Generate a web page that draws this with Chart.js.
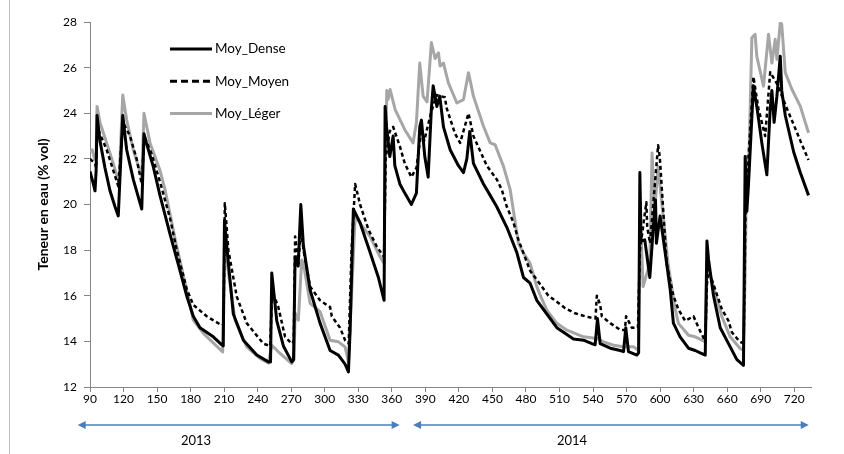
<!DOCTYPE html>
<html>
<head>
<meta charset="utf-8">
<script src="https://cdn.jsdelivr.net/npm/chart.js@4"></script>
<style>
    html, body { margin: 0; padding: 0; background: #fff; }
    #cadre { position: relative; width: 844px; height: 454px; }
</style>
</head>
<body>
<div id="cadre"><canvas id="graphique-teneur" width="844" height="454"></canvas></div>
<script>
// Jours (axe x) et teneurs en eau, par série
const joursDense = [90, 93, 94.5, 95.5, 96.3, 98.9, 103.4, 107.9, 112.4, 115.3,
    119.3, 122.8, 128.7, 136.3, 138.3, 141, 146.4, 152.6, 161.6, 170.5,
    176.5, 182.4, 188.4, 200.3, 207.9, 209.2, 210.3, 212.3, 218.2, 227.2,
    239.2, 249.6, 251.5, 252.6, 257.1, 263, 270.5, 272.1, 273.5, 276.2,
    278.6, 280.9, 286.9, 295.8, 304.8, 312.2, 318.2, 321.2, 322.7, 325.6,
    331.6, 340.6, 348, 353.1, 354, 355.3, 358.2, 361.2, 362.7, 367.2,
    371.6, 377.5, 382, 385, 386.5, 389.5, 392.5, 395.4, 397, 400.3,
    402.9, 406.2, 412.2, 419.6, 424.1, 427.1, 429.7, 433, 442, 448,
    453.9, 462.9, 471.8, 477.8, 483.7, 489.7, 498.7, 507.6, 516.6, 522.5,
    531.5, 539, 541.9, 544, 546.4, 555.4, 564.3, 567.3, 569.3, 571.7,
    579.2, 580.8, 581.9, 583, 586.3, 590.8, 595.2, 595.9, 596.7, 600,
    604.5, 609.1, 611.9, 617.9, 625.4, 631.4, 635.9, 640.4, 641.9, 643.3,
    647.8, 653.8, 661.2, 668.7, 674.6, 676.1, 677.6, 679, 683.5, 686.5,
    691, 695.5, 698.5, 700, 702, 704.5, 707.5, 708.8, 712, 719.5,
    725.4, 732.8];
const valeursDense = [21.45, 20.9, 20.6, 21.5, 23.9, 22.8, 21.6, 20.6, 19.9, 19.5,
    23.9, 22.4, 21.1, 19.8, 23.1, 22.6, 21.7, 20.4, 18.7, 17.1,
    16.0, 15.1, 14.6, 14.2, 13.85, 13.8, 19.3, 18.2, 15.2, 14.05,
    13.4, 13.1, 13.1, 17.0, 14.9, 13.8, 13.1, 13.2, 17.7, 17.3,
    20.0, 18.2, 16.25, 14.8, 13.6, 13.4, 13.0, 12.66, 14.5, 19.8,
    19.2, 17.9, 16.8, 15.8, 24.3, 23.4, 22.1, 23.0, 21.7, 20.9,
    20.5, 20.0, 20.5, 23.4, 23.7, 22.1, 21.2, 24.2, 25.2, 24.3,
    24.75, 23.4, 22.4, 21.7, 21.4, 22.0, 23.2, 21.8, 20.9, 20.4,
    19.9, 19.0, 17.9, 16.8, 16.55, 15.8, 15.2, 14.6, 14.3, 14.1,
    14.05, 13.9, 13.85, 15.0, 13.9, 13.7, 13.6, 13.55, 14.6, 13.55,
    13.4, 13.5, 21.4, 18.4, 18.45, 16.8, 19.9, 20.2, 18.3, 19.5,
    17.9, 16.25, 14.8, 14.2, 13.7, 13.6, 13.5, 13.4, 18.4, 17.6,
    16.0, 14.6, 13.9, 13.2, 12.95, 22.1, 19.7, 20.8, 25.2, 24.3,
    22.7, 21.3, 24.2, 25.0, 23.6, 24.75, 26.5, 25.0, 23.9, 22.3,
    21.4, 20.4];

const joursMoyen = [90, 94.5, 95.5, 96.5, 98.9, 104.9, 110.8, 115.3, 119.5, 125.8,
    131.7, 136.3, 138.5, 145.2, 152.6, 161.6, 167.6, 176.5, 182.4, 194.4,
    207.9, 209.5, 210.6, 213.8, 221.3, 230.2, 245.1, 251.2, 253, 258.5,
    264.5, 270.5, 272.3, 273.5, 276.4, 278.8, 281, 286.9, 295.8, 304.8,
    306.3, 313.7, 318.2, 321.4, 324, 327.2, 331.6, 339.1, 346.6, 353.1,
    354.5, 358, 361.2, 367.2, 371.6, 377.5, 382, 386.5, 389, 395,
    399.9, 407.4, 409.2, 416.6, 421.1, 428.6, 433, 445, 453.9, 458.4,
    462.9, 468.9, 473.3, 483.7, 492.7, 500.1, 507.6, 515.1, 524, 534.5,
    542.2, 543.4, 546.4, 547.9, 555.4, 564.3, 568.5, 569.6, 574.7, 580.2,
    582, 587.7, 588.5, 591, 598.2, 599.7, 605.9, 611.9, 616.4, 622.4,
    629.9, 634.4, 640.4, 641.9, 643.5, 646.4, 655.3, 661.2, 664.2, 671,
    674.8, 676.5, 683.5, 688, 691, 694, 698.5, 704.5, 713.5, 719.5,
    725.4, 732.8];
const valeursMoyen = [22.0, 21.8, 21.6, 23.4, 23.1, 22.4, 21.5, 20.8, 23.6, 23.0,
    22.0, 20.9, 23.0, 22.2, 21.0, 19.4, 18.0, 16.3, 15.6, 15.1,
    14.7, 14.75, 20.06, 18.0, 15.96, 14.8, 13.9, 13.8, 16.2, 15.5,
    14.2, 13.9, 14.0, 18.6, 17.4, 19.0, 18.0, 16.4, 15.8, 15.5,
    15.1, 14.6, 14.05, 13.9, 18.0, 20.9, 20.0, 18.9, 18.15, 17.7,
    22.0, 23.2, 23.4, 22.55, 21.8, 21.2, 21.6, 23.3, 22.8, 24.0,
    24.8, 24.7, 24.2, 23.1, 22.7, 24.0, 23.0, 21.7, 21.1, 20.65,
    19.9, 19.2, 18.45, 17.1, 16.5, 16.0, 15.74, 15.45, 15.23, 15.08,
    15.0, 16.0, 15.6, 15.1, 14.8, 14.5, 14.5, 15.1, 14.6, 14.6,
    18.0, 20.1, 19.0, 18.3, 22.6, 22.1, 17.4, 16.0, 15.4, 14.9,
    15.1, 14.6, 14.0, 16.5, 17.2, 16.7, 15.4, 14.9, 14.4, 14.0,
    13.9, 20.0, 25.6, 24.2, 23.6, 23.0, 25.8, 25.3, 24.2, 23.5,
    22.8, 21.95];

const joursLeger = [90, 92, 94, 95.5, 96.3, 98.9, 104.9, 110.8, 115.9, 119.3,
    122.8, 128.7, 136.3, 138.3, 143.7, 152.6, 157.1, 167.6, 176.5, 182.4,
    191.4, 208.7, 210.2, 212.3, 219.8, 230.2, 242.1, 249.6, 252.6, 260,
    270.5, 272.5, 273.5, 276.4, 279.4, 280.9, 286.9, 295.8, 304.8, 312.2,
    318.2, 321.2, 323, 327.2, 340.6, 349.5, 353.1, 354.3, 355.5, 356.7,
    358.5, 363, 371.6, 379, 382, 385, 388, 391.5, 395.4, 398.7,
    401.7, 403.2, 406.2, 410.6, 418.2, 424.1, 428.6, 433, 442, 448,
    452.4, 459.9, 465.9, 473.3, 477.8, 483.7, 489.7, 492.7, 498.7, 507.6,
    516.6, 531.5, 543.4, 549.4, 558.3, 567.3, 576.2, 580.6, 582, 583.3,
    584.8, 590.8, 592.8, 595.2, 598.2, 607.1, 613.1, 616.4, 625.4, 631.4,
    634.4, 640.4, 641.9, 649.3, 655.3, 662.7, 671.6, 674.6, 676.1, 677.6,
    679, 682.1, 685, 686.5, 692.5, 697, 700, 703, 704.5, 707.5,
    708.8, 712, 718, 725.4, 732.8];
const valeursLeger = [22.33, 22.4, 22.0, 22.2, 24.3, 23.6, 22.7, 21.8, 20.94, 24.8,
    23.7, 22.4, 21.2, 24.0, 22.7, 21.5, 20.65, 18.15, 16.25, 14.93,
    14.35, 13.54, 18.15, 17.57, 14.93, 13.76, 13.25, 13.05, 13.83, 13.47,
    13.03, 13.2, 15.24, 14.93, 17.57, 17.42, 15.67, 15.3, 14.05, 13.98,
    13.76, 13.1, 15.0, 19.47, 18.59, 17.71, 17.42, 22.0, 25.0, 24.6,
    25.04, 24.16, 23.28, 22.7, 23.58, 26.2, 24.75, 24.5, 27.1, 26.4,
    26.65, 26.07, 26.2, 25.33, 24.45, 24.6, 25.78, 24.75, 23.43, 22.7,
    22.62, 21.67, 20.65, 18.3, 17.86, 17.42, 16.4, 16.03, 15.37, 14.79,
    14.49, 14.2, 14.13, 13.98, 13.83, 13.76, 13.76, 13.61, 18.3, 18.3,
    16.4, 17.42, 22.26, 19.77, 21.67, 17.42, 15.52, 14.79, 14.27, 14.2,
    14.13, 13.98, 17.42, 16.1, 15.08, 14.2, 13.69, 13.61, 17.0, 22.1,
    21.0, 27.31, 27.46, 26.5, 25.19, 27.46, 26.2, 27.24, 26.36, 27.97,
    27.9, 25.78, 25.04, 24.31, 23.14];

// Noms des séries et graduations
const nomsSeries = ["Moy_Dense", "Moy_Moyen", "Moy_Léger"];
const graduationsX = [90, 120, 150, 180, 210, 240, 270, 300, 330, 360, 390,
    420, 450, 480, 510, 540, 570, 600, 630, 660, 690, 720];
const graduationsY = [12, 14, 16, 18, 20, 22, 24, 26, 28];

// Années repérées sous l'axe (jour de début, jour de fin)
const annees = ["2013", "2014"];
const debutsAnnees = [79, 379];
const finsAnnees = [367, 733];

function points(jours, valeurs) {
    return jours.map((j, i) => ({ x: j, y: valeurs[i] }));
}

const police = "Lato, 'Liberation Sans', sans-serif";

const datasets = [
    {
        label: nomsSeries[0],
        data: points(joursDense, valeursDense),
        borderColor: "#000000",
        borderWidth: 3,
    },
    {
        label: nomsSeries[1],
        data: points(joursMoyen, valeursMoyen),
        borderColor: "#000000",
        borderWidth: 2.5,
        borderDash: [4, 3],
    },
    {
        label: nomsSeries[2],
        data: points(joursLeger, valeursLeger),
        borderColor: "#A6A6A6",
        borderWidth: 3,
    },
];
datasets.forEach(d => {
    d.pointRadius = 0;
    d.tension = 0;
    d.fill = false;
    d.borderJoinStyle = "round";
});

// Légende, flèches des années et bord gauche dessinés à la main
const decor = {
    id: "decor",
    afterDatasetsDraw(chart) {
        const ctx = chart.ctx;
        ctx.save();
        for (let i = 0; i < datasets.length; i++) {
            const y = 49 + i * 32.3;
            ctx.beginPath();
            ctx.strokeStyle = datasets[i].borderColor;
            ctx.lineWidth = 3;
            ctx.setLineDash(datasets[i].borderDash ? [7, 4] : []);
            ctx.moveTo(170, y);
            ctx.lineTo(212, y);
            ctx.stroke();
            ctx.setLineDash([]);
            ctx.fillStyle = "#000";
            ctx.font = "13.5px " + police;
            ctx.textBaseline = "middle";
            ctx.textAlign = "left";
            ctx.fillText(nomsSeries[i], 215, y);
        }
        ctx.restore();
    },
    afterDraw(chart) {
        const ctx = chart.ctx;
        const x = chart.scales.x;
        ctx.save();
        const bleu = "#4A7EBB";
        const yFleche = 425;
        for (let i = 0; i < annees.length; i++) {
            const x1 = x.getPixelForValue(debutsAnnees[i]);
            const x2 = x.getPixelForValue(finsAnnees[i]);
            ctx.strokeStyle = bleu;
            ctx.fillStyle = bleu;
            ctx.lineWidth = 1.5;
            ctx.beginPath();
            ctx.moveTo(x1 + 6, yFleche);
            ctx.lineTo(x2 - 6, yFleche);
            ctx.stroke();
            // pointes
            ctx.beginPath();
            ctx.moveTo(x1, yFleche);
            ctx.lineTo(x1 + 8, yFleche - 4);
            ctx.lineTo(x1 + 8, yFleche + 4);
            ctx.closePath();
            ctx.fill();
            ctx.beginPath();
            ctx.moveTo(x2, yFleche);
            ctx.lineTo(x2 - 8, yFleche - 4);
            ctx.lineTo(x2 - 8, yFleche + 4);
            ctx.closePath();
            ctx.fill();
        }
        ctx.fillStyle = "#000";
        ctx.font = "13px " + police;
        ctx.textAlign = "center";
        ctx.textBaseline = "middle";
        ctx.fillText(annees[0], 196, 441);
        ctx.fillText(annees[1], 572, 441);
        // bord gauche du cadre
        ctx.strokeStyle = "#BFBFBF";
        ctx.lineWidth = 1;
        ctx.beginPath();
        ctx.moveTo(9.5, 0);
        ctx.lineTo(9.5, 454);
        ctx.stroke();
        ctx.restore();
    },
};

const config = {
    type: "line",
    data: { datasets: datasets },
    options: {
        responsive: false,
        animation: false,
        layout: { padding: { top: 22, right: 33, bottom: 0, left: 0 } },
        plugins: {
            legend: { display: false },
            tooltip: { enabled: false },
        },
        scales: {
            x: {
                type: "linear",
                min: 90,
                max: 735,
                afterBuildTicks: scale => {
                    scale.ticks = graduationsX.map(v => ({ value: v }));
                },
                afterFit: scale => {
                    scale.height = 67;
                },
                ticks: {
                    autoSkip: false,
                    maxRotation: 0,
                    padding: 0,
                    color: "#000",
                    font: { family: police, size: 12 },
                },
                grid: {
                    drawOnChartArea: false,
                    tickLength: 5,
                    color: "#868686",
                },
                border: { color: "#868686" },
            },
            y: {
                min: 12,
                max: 28,
                afterBuildTicks: scale => {
                    scale.ticks = graduationsY.map(v => ({ value: v }));
                },
                afterFit: scale => {
                    scale.width = 90;
                },
                ticks: {
                    padding: 7,
                    color: "#000",
                    font: { family: police, size: 12 },
                },
                grid: {
                    drawOnChartArea: false,
                    tickLength: 6,
                    color: "#868686",
                },
                border: { color: "#868686" },
                title: {
                    display: true,
                    text: "Teneur en eau (% vol)",
                    color: "#000",
                    font: { family: police, size: 14, weight: "bold" },
                    padding: { top: 35, bottom: 0 },
                },
            },
        },
    },
    plugins: [decor],
};

new Chart(document.querySelector("#graphique-teneur"), config);
</script>
</body>
</html>
